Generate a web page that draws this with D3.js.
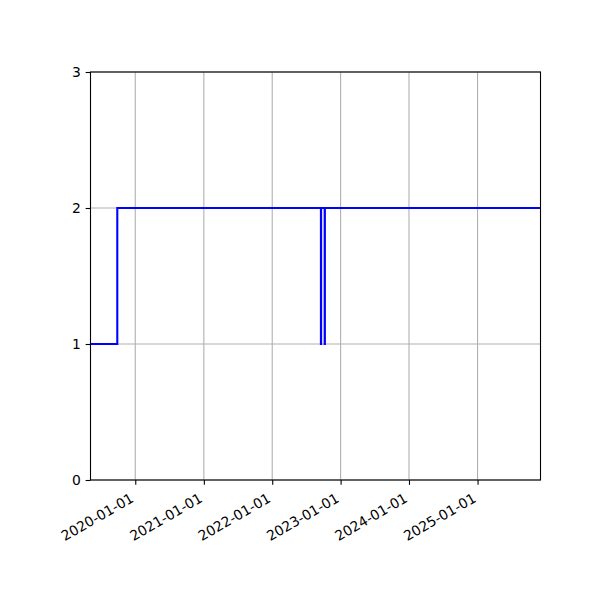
<!DOCTYPE html>
<html>
<head>
<meta charset="utf-8">
<script src="https://cdn.jsdelivr.net/npm/d3@7"></script>
<style>
  body { margin: 0; background: #fff; }
  text { font-family: "DejaVu Sans", sans-serif; font-size: 13.9px; fill: #000; }
</style>
</head>
<body>
<div id="chart"></div>
<script>
// step data
const dates = ['2019-05-07', '2019-09-27', '2022-09-18', '2022-09-19', '2022-10-08', '2022-10-09', '2025-12-03'];
const values = [1, 2, 1, 2, 1, 2, 2];
const xTickDates = ['2020-01-01', '2021-01-01', '2022-01-01', '2023-01-01', '2024-01-01', '2025-01-01'];
const yTicks = [0, 1, 2, 3];

const svgWidth = 600;
const svgHeight = 600;
const margin = { top: 72, right: 59.5, bottom: 120, left: 90.5 };
const width = svgWidth - margin.left - margin.right;
const height = svgHeight - margin.top - margin.bottom;

const parse = d3.utcParse('%Y-%m-%d');
const data = dates.map((d, i) => ({ date: parse(d), value: values[i] }));

const svg = d3.select('#chart')
    .append('svg')
    .attr('width', svgWidth)
    .attr('height', svgHeight);

const chartGroup = svg.append('g')
    .attr('transform', `translate(${margin.left}, ${margin.top})`);

const x = d3.scaleUtc()
    .domain(d3.extent(data, d => d.date))
    .range([0, width]);

const y = d3.scaleLinear()
    .domain([0, 3])
    .range([height, 0]);

const tickLen = 4.86;

// grid
chartGroup.append('g')
    .selectAll('line')
    .data(xTickDates.map(parse))
    .enter()
    .append('line')
    .attr('x1', d => x(d)).attr('x2', d => x(d))
    .attr('y1', 0).attr('y2', height)
    .attr('stroke', '#b0b0b0')
    .attr('stroke-width', 1.1);

chartGroup.append('g')
    .selectAll('line')
    .data(yTicks)
    .enter()
    .append('line')
    .attr('x1', 0).attr('x2', width)
    .attr('y1', d => y(d)).attr('y2', d => y(d))
    .attr('stroke', '#b0b0b0')
    .attr('stroke-width', 1.1);

// step line
const line = d3.line()
    .x(d => x(d.date))
    .y(d => y(d.value))
    .curve(d3.curveStepAfter);

chartGroup.append('path')
    .datum(data)
    .attr('d', line)
    .attr('fill', 'none')
    .attr('stroke', '#0000ff')
    .attr('stroke-width', 2.08);

// x axis
const xAxis = chartGroup.append('g')
    .attr('transform', `translate(0, ${height})`)
    .call(d3.axisBottom(x)
        .tickValues(xTickDates.map(parse))
        .tickSize(tickLen)
        .tickFormat(d3.utcFormat('%Y-%m-%d')));
xAxis.select('.domain').remove();
xAxis.selectAll('line').attr('stroke', '#000').attr('stroke-width', 1.1);
xAxis.selectAll('text')
    .attr('y', 0)
    .attr('dy', 0)
    .attr('text-anchor', 'end')
    .attr('transform', 'translate(-1, 21) rotate(-30)')
    .style('font-size', '13.9px')
    .style('font-family', '"DejaVu Sans", sans-serif');

// y axis
const yAxis = chartGroup.append('g')
    .call(d3.axisLeft(y)
        .tickValues(yTicks)
        .tickSize(tickLen)
        .tickPadding(4.86)
        .tickFormat(d3.format('d')));
yAxis.select('.domain').remove();
yAxis.selectAll('line').attr('stroke', '#000').attr('stroke-width', 1.1);
yAxis.selectAll('text')
    .style('font-size', '13.9px')
    .style('font-family', '"DejaVu Sans", sans-serif');

// frame
chartGroup.append('rect')
    .attr('x', 0).attr('y', 0)
    .attr('width', width).attr('height', height)
    .attr('fill', 'none')
    .attr('stroke', '#000')
    .attr('stroke-width', 1.1);
</script>
</body>
</html>
